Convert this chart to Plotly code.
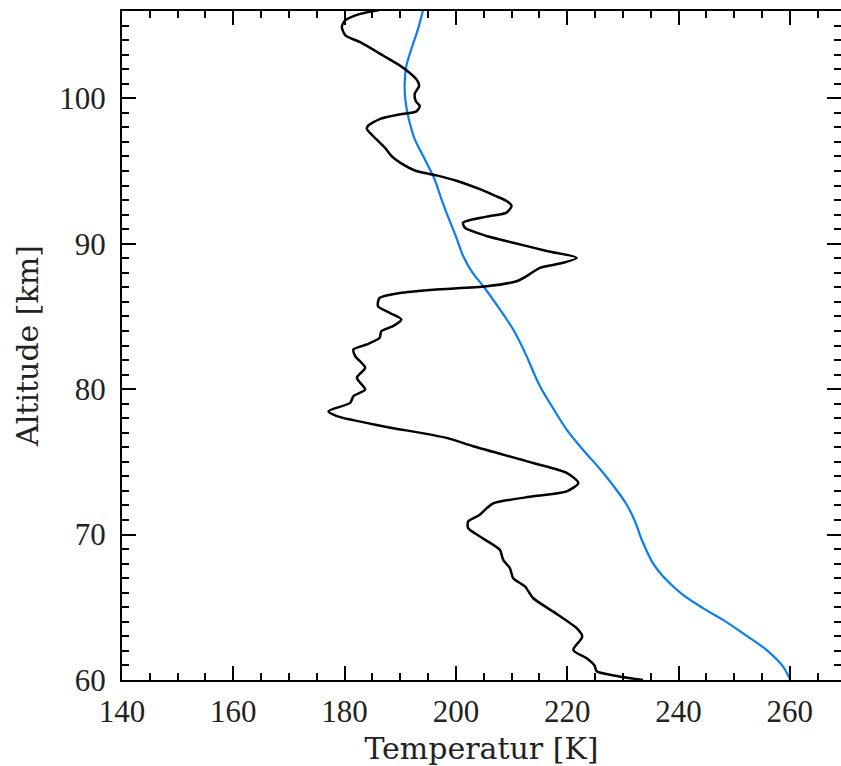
import plotly.graph_objects as go

# Measured temperature profile (black)
alt_meas = [106.05, 105.8, 105.35, 104.9, 104.3, 103.86, 102.94, 102.1, 101.3, 100.87,
            100.3, 99.8, 99.46, 99.1, 98.9, 98.57, 98.1, 97.88, 97.19, 96.62,
            96.04, 95.59, 95.0, 94.7, 94.33, 93.75, 93.3, 92.94, 92.6, 92.14,
            91.86, 91.45, 91.1, 90.53, 90.07, 89.5, 89.03, 88.69, 88.34, 87.77,
            87.42, 87.07, 86.84, 86.61, 86.27, 85.7, 85.24, 84.79, 84.33, 83.98,
            83.53, 83.07, 82.73, 82.27, 81.47, 80.78, 79.97, 79.52, 79.06, 78.48,
            78.14, 77.45, 76.65, 76.07, 74.92, 74.24, 73.55, 72.97, 72.63, 72.15,
            71.8, 71.36, 70.9, 70.44, 69.87, 68.95, 68.26, 67.69, 67.0, 66.43,
            65.62, 64.70, 63.56, 62.98, 62.07, 61.49, 61.0, 60.6, 60.28, 60.0]
temp_meas = [186.1, 182.8, 180.1, 179.5, 180.2, 182.8, 186.9, 190.5, 192.9, 193.4,
             192.6, 192.8, 193.5, 192.9, 190.0, 186.3, 184.2, 184.0, 185.7, 187.2,
             188.4, 189.9, 192.9, 196.5, 200.1, 204.3, 207.0, 209.1, 210.0, 209.1,
             205.5, 201.3, 201.6, 205.5, 210.3, 216.3, 221.7, 219.3, 215.1, 212.7,
             210.9, 205.5, 195.9, 189.9, 186.3, 186.0, 188.1, 190.2, 188.7, 186.6,
             186.3, 184.0, 181.6, 181.9, 183.7, 182.2, 183.7, 181.6, 181.0, 177.1,
             178.6, 186.9, 198.3, 203.1, 213.9, 219.9, 222.0, 219.9, 213.9, 206.7,
             205.5, 204.3, 202.2, 202.2, 204.3, 207.9, 208.5, 209.7, 210.3, 212.4,
             213.9, 217.5, 221.7, 222.7, 221.1, 223.5, 224.9, 225.3, 228.9, 233.6]

# Model / climatology profile (blue)
alt_model = [106.05, 104.77, 103.39, 102.24, 101.09, 99.94, 98.79, 97.19, 96.04, 94.5,
             93.06, 92.14, 90.5, 89.15, 88.0, 87.09, 85.48, 84.1, 83.0, 82.27,
             80.2, 78.6, 77.22, 75.8, 74.46, 73.2, 72.05, 70.9, 69.64, 68.04,
             66.89, 65.85, 64.94, 64.13, 63.21, 62.07, 60.92, 60.0]
temp_model = [194.1, 193.2, 192.0, 191.1, 190.8, 190.9, 191.4, 192.6, 194.1, 196.1,
              197.4, 198.3, 200.0, 201.3, 203.0, 204.9, 207.9, 210.3, 211.8, 212.7,
              215.1, 217.6, 219.9, 222.9, 226.0, 228.6, 230.7, 232.2, 233.4, 235.4,
              237.8, 240.8, 244.4, 248.0, 251.6, 255.8, 258.8, 260.1]

x_tickvals = [140, 160, 180, 200, 220, 240, 260]
y_tickvals = [60, 70, 80, 90, 100]

fig = go.Figure()
fig.add_trace(go.Scatter(x=temp_model, y=alt_model, mode="lines",
                         line=dict(color="#0a7df5", width=2.2, shape="spline", smoothing=0.8),
                         showlegend=False, cliponaxis=True))
fig.add_trace(go.Scatter(x=temp_meas, y=alt_meas, mode="lines",
                         line=dict(color="black", width=2.5, shape="spline", smoothing=0.7),
                         showlegend=False, cliponaxis=True))

tickfont = dict(family="Liberation Serif", size=31, color="#222")
titlefont = dict(family="DejaVu Serif", size=30, color="#222")

fig.update_layout(
    width=841, height=766,
    margin=dict(l=122, r=0, t=11, b=86),
    paper_bgcolor="white", plot_bgcolor="white",
    xaxis=dict(range=[140, 269.2], tickvals=x_tickvals, ticks="inside", ticklen=14,
               tickwidth=2, tickcolor="black", showline=True, linecolor="black",
               linewidth=2, mirror="ticks", showgrid=False, zeroline=False,
               tickfont=tickfont, ticklabelstandoff=3, automargin=False,
               minor=dict(dtick=5, tick0=140, ticks="inside", ticklen=7, tickwidth=2,
                          tickcolor="black", showgrid=False),
               title=dict(text="Temperatur [K]", font=titlefont, standoff=12)),
    yaxis=dict(range=[60, 106], tickvals=y_tickvals, ticks="inside", ticklen=14,
               tickwidth=2, tickcolor="black", showline=True, linecolor="black",
               linewidth=2, mirror="ticks", showgrid=False, zeroline=False,
               tickfont=tickfont, ticklabelstandoff=8, automargin=False,
               minor=dict(dtick=1, tick0=60, ticks="inside", ticklen=7, tickwidth=2,
                          tickcolor="black", showgrid=False),
               title=dict(text="Altitude [km]", font=titlefont, standoff=12)),
)

fig.write_html("out.html")
